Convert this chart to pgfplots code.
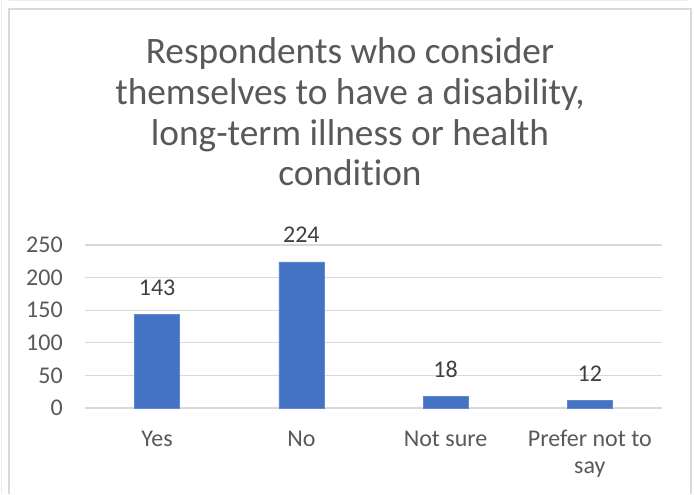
\documentclass[border=0pt]{standalone}
\usepackage{fontspec}
\setmainfont{Carlito}[Ligatures=NoCommon]
\usepackage{pgfplots}
\pgfplotsset{compat=1.18}
\definecolor{barblue}{HTML}{4472C4}
\definecolor{titlegray}{HTML}{595959}
\definecolor{labelgray}{HTML}{404040}
\definecolor{gridgray}{HTML}{D9D9D9}
\definecolor{framegray}{HTML}{D9D9D9}
\newsavebox\pbox
\newcommand{\prefer}{\sbox\pbox{Prefer not to}\vtop{\baselineskip=20.5pt \hbox{\usebox\pbox}\hbox to \wd\pbox{\hfil say\hfil}}}
\begin{document}
\begin{tikzpicture}
% canvas 694x494 px at 0.75pt/px
\fill[white] (0,0) rectangle (520.5pt,370.5pt);
\useasboundingbox (0,0) rectangle (520.5pt,370.5pt);
% frame
\draw[framegray!50, line width=1pt] (1pt,0) -- (1pt,370.5pt);
\draw[framegray!50, line width=1pt] (7pt,370pt) -- (515pt,370pt);
\draw[framegray, line width=1.5pt] (6.75pt,0) -- (6.75pt,363.75pt) -- (518.25pt,363.75pt) -- (518.25pt,0);
% title
\begin{scope}[every node/.style={anchor=base, text=titlegray, font=\fontsize{28}{33}\selectfont, inner sep=0pt}]
\node at (262.5pt,322.5pt) {Respondents who consider};
\node at (262.5pt,292.1pt) {themselves to have a disability,};
\node at (262.5pt,261.75pt) {long-term illness or health};
\node at (262.5pt,231.4pt) {condition};
\end{scope}
\begin{axis}[
  at={(63.75pt,64.5pt)}, anchor=south west,
  width=432.75pt, height=122.25pt, scale only axis,
  ybar, bar width=33.75pt,
  xmin=-0.5, xmax=3.5, ymin=0, ymax=250,
  xtick={0,1,2,3},
  xticklabels={Yes, No, Not sure, \prefer},
  ytick={0,50,100,150,200,250},
  ymajorgrids, grid style={gridgray, line width=0.9pt},
  axis line style={draw=none},
  major tick length=0pt,
  /pgf/number format/assume math mode=true,
  ticklabel style={text=titlegray, font=\fontsize{18}{20.5}\selectfont},
  yticklabel style={anchor=east, inner sep=0pt, xshift=-16.5pt},
  xticklabel style={anchor=base, inner sep=0pt, yshift=-28.5pt},
  nodes near coords,
  every node near coord/.append style={anchor=base, inner sep=0pt, yshift=14.25pt, text=labelgray, font=\fontsize{18}{20.5}\selectfont},
  clip=false,
]
\addplot[fill=barblue, draw=barblue!85!white] coordinates {(0,143) (1,224) (2,18) (3,12)};
\end{axis}
\end{tikzpicture}
\end{document}
